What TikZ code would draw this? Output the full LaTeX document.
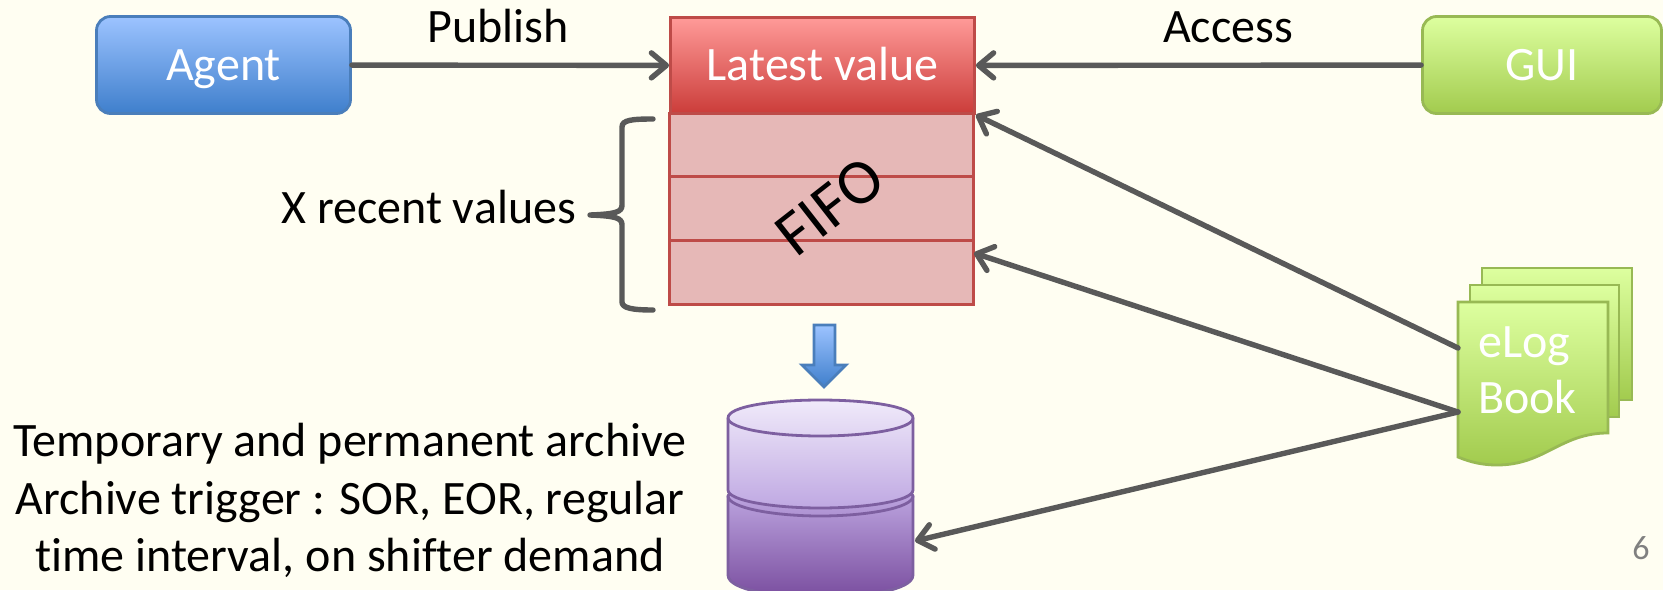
\documentclass[tikz,border=0pt]{standalone}
\usepackage{fontspec}
\setmainfont{Carlito}[Ligatures=CommonOff]
\usepackage{tikz}
\usetikzlibrary{arrows.meta, positioning, calc}

\definecolor{paper}{HTML}{FFFEF2}
\definecolor{conncol}{HTML}{595959}
\definecolor{bluetop}{HTML}{9CC3FF}
\definecolor{bluebot}{HTML}{3F7FCC}
\definecolor{blueline}{HTML}{4A7EBB}
\definecolor{redtop}{HTML}{FF9A98}
\definecolor{redbot}{HTML}{CB3D3A}
\definecolor{redline}{HTML}{BE4B48}
\definecolor{rowfill}{HTML}{E6B8B7}
\definecolor{greentop}{HTML}{DDFF9F}
\definecolor{greenbot}{HTML}{A2CB4E}
\definecolor{greenline}{HTML}{98B954}
\definecolor{purplea}{HTML}{F0EAFA}
\definecolor{purpleb}{HTML}{BFA8E2}
\definecolor{purplec}{HTML}{7A4E9F}
\definecolor{purpleline}{HTML}{7D5FA0}

\begin{document}
\begin{tikzpicture}[x=1pt, y=-1pt,
  txt/.style={font=\fontsize{48}{57.6}\selectfont, inner sep=0pt},
  boxagent/.style={txt, rectangle, draw=blueline, line width=2.8pt, text=white,
    top color=bluetop, bottom color=bluebot, text height=30pt, text depth=0pt,
    minimum width=254pt, minimum height=97pt, rounded corners=14pt},
  boxgui/.style={boxagent, draw=greenline, top color=greentop, bottom color=greenbot,
    minimum width=239pt},
  boxlatest/.style={txt, rectangle, draw=redline, line width=2.8pt, text=white,
    top color=redtop, bottom color=redbot, text height=30pt, text depth=0pt,
    minimum width=304pt, minimum height=96pt},
  fiforow/.style={rectangle, draw=redline, line width=2.8pt, fill=rowfill,
    minimum width=304pt, minimum height=64pt},
  page/.style={draw=greenline, line width=2.8pt, top color=greentop, bottom color=greenbot},
  conn/.style={line width=5.4pt, conncol, line cap=round,
    -{Straight Barb[length=15pt, width=25pt, round]}},
  drum/.style={draw=purpleline, line width=2.8pt}
]
  % Page
  \useasboundingbox (0,0) rectangle (1663,590);
  \fill[paper] (0,0) rectangle (1663,590);

  % FIFO rows
  \foreach \n/\y in {1/145, 2/208.5, 3/272.5} {
    \node[fiforow] (Row\n) at (821.5,\y) {};
  }
  \node[txt, font=\fontsize{64}{70}\selectfont, rotate=38] (Fifo) at (830,206) {FIFO};

  % Top boxes
  \node[boxagent] (Agent) at (223.5,65) {Agent};
  \node[boxlatest] (Latest) at (822.5,65.5) {Latest value};
  \node[boxgui] (Gui) at (1542,65) {GUI};

  % Brace
  \draw[line width=5.4pt, conncol, line cap=round, line join=round]
    (653,119) .. controls (632,119) and (622,120) .. (622,127) -- (622,205)
    .. controls (622,212) and (616,214) .. (590,215)
    .. controls (616,216) and (622,218) .. (622,225) -- (622,302)
    .. controls (622,308) and (632,310) .. (653,310);
  \node[txt, anchor=base east] (Recent) at (576,223) {X recent values};

  % Block arrow
  \path[draw=blueline, line width=2.8pt, top color=bluetop, bottom color=bluebot]
    (814,325) -- (835,325) -- (835,365) -- (846,365) -- (824,387) -- (802,365)
    -- (814,365) -- cycle;

  % Archive drum
  \path[drum, top color=purpleb, bottom color=purplec]
    (728,496) -- (728,575) .. controls (728,590) and (775,597) .. (820,597)
    .. controls (866,597) and (913,590) .. (913,575) -- (913,496)
    .. controls (913,490) and (866,490) .. (820,490)
    .. controls (775,490) and (728,490) .. (728,496) -- cycle;
  \draw[drum]
    (728,496) .. controls (728,508) and (775,516) .. (820,516)
    .. controls (866,516) and (913,508) .. (913,496);
  \path[drum, top color=purplea, bottom color=purpleb]
    (728,418) -- (728,490) .. controls (728,501) and (775,508) .. (820,508)
    .. controls (866,508) and (913,501) .. (913,490) -- (913,418)
    .. controls (913,406) and (866,400) .. (820,400)
    .. controls (775,400) and (728,406) .. (728,418) -- cycle;
  \draw[drum]
    (728,418) .. controls (728,429) and (775,436) .. (820,436)
    .. controls (866,436) and (913,429) .. (913,418);
  \coordinate (ArchiveIn) at (915,541);

  % eLog pages
  \path[page] (1482,268) rectangle (1632,400);
  \path[page] (1470,285) rectangle (1619,417);
  \path[page]
    (1458,302) -- (1608,302) -- (1608,433)
    .. controls (1560,433) and (1545,465) .. (1497,465)
    .. controls (1482,465) and (1470,462) .. (1458,457) -- cycle;
  \node[txt, text=white, anchor=base west] (Elog) at (1478,357) {eLog};
  \node[txt, text=white, anchor=base west] (Book) at (1478,413) {Book};
  \coordinate (ElogUp) at (1458,348);
  \coordinate (ElogDown) at (1458,412);
  \coordinate (RowIn) at (974,253);

  % Connections
  \draw[conn] (Agent) -- (Latest);
  \draw[conn] (Gui) -- (Latest);
  \draw[conn] (ElogUp) -- (Latest.south east);
  \draw[conn] (ElogDown) -- (RowIn);
  \draw[conn] (ElogDown) -- (ArchiveIn);

  % Labels
  \node[txt, anchor=base] (Publish) at (498,42) {Publish};
  \node[txt, anchor=base] (Access) at (1228,42) {Access};
  \node[txt, align=center] (Archive) at (350,500.5)
    {Temporary and permanent archive\\Archive trigger : SOR, EOR, regular\\time interval, on shifter demand};
  \node[inner sep=0pt, text=gray, font=\fontsize{34}{40}\selectfont] (Num) at (1641,548) {6};
\end{tikzpicture}
\end{document}
